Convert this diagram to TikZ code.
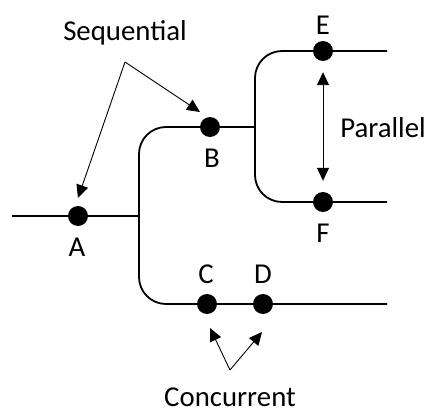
\documentclass[tikz,border=0pt]{standalone}
\usepackage{fontspec}
\setmainfont{Carlito}
\usetikzlibrary{arrows.meta}
\begin{document}
\begin{tikzpicture}[x=1pt,y=-1pt,
  wire/.style={line width=1.8pt},
  evt/.style={circle,fill=black,minimum size=20pt,inner sep=0pt},
  lbl/.style={font=\fontsize{28.8}{34}\selectfont,inner sep=0pt},
  pointer/.style={line width=0.9pt,-{Triangle[length=13pt,width=12pt]}},
  both/.style={line width=0.9pt,{Triangle[length=13pt,width=12pt]}-{Triangle[length=13pt,width=12pt]}}]
\useasboundingbox (0,0) rectangle (432,412);
% wires
\coordinate (in) at (12,216);
\coordinate (j1) at (139,216);
\coordinate (j2) at (255,127);
\coordinate (outE) at (387,51);
\coordinate (outF) at (387,202);
\coordinate (outD) at (387,304);
\draw[wire] (in) -- (j1);
\draw[wire,rounded corners=27pt] (j2) -- (139,127) -- (139,304) -- (outD);
\draw[wire,rounded corners=27pt] (outE) -- (255,51) -- (255,202) -- (outF);
% events
\node[evt] (A) at (78,216) {};
\node[evt] (B) at (210,127) {};
\node[evt] (C) at (207,304) {};
\node[evt] (D) at (263,304) {};
\node[evt] (E) at (323,51) {};
\node[evt] (F) at (323,202) {};
% labels
\node[lbl] (lA) at (77,247) {A};
\node[lbl] (lB) at (212,158) {B};
\node[lbl] (lC) at (206,274) {C};
\node[lbl] (lD) at (263,274) {D};
\node[lbl] (lE) at (323,25) {E};
\node[lbl] (lF) at (323,233) {F};
\node[lbl] (seq) at (125,33) {Sequential};
\node[lbl] (par) at (383,128) {Parallel};
\node[lbl] (con) at (230,397) {Concurrent};
% pointers
\coordinate (sq) at (125,62);
\coordinate (tA) at (78,198);
\coordinate (tB) at (200,112);
\coordinate (cq) at (230,370);
\coordinate (tC) at (210,328);
\coordinate (tD) at (262,332);
\draw[pointer] (sq) -- (tA);
\draw[pointer] (sq) -- (tB);
\draw[pointer] (cq) -- (tC);
\draw[pointer] (cq) -- (tD);
\draw[both,shorten <=11pt,shorten >=11pt] (E) -- (F);
\end{tikzpicture}
\end{document}
